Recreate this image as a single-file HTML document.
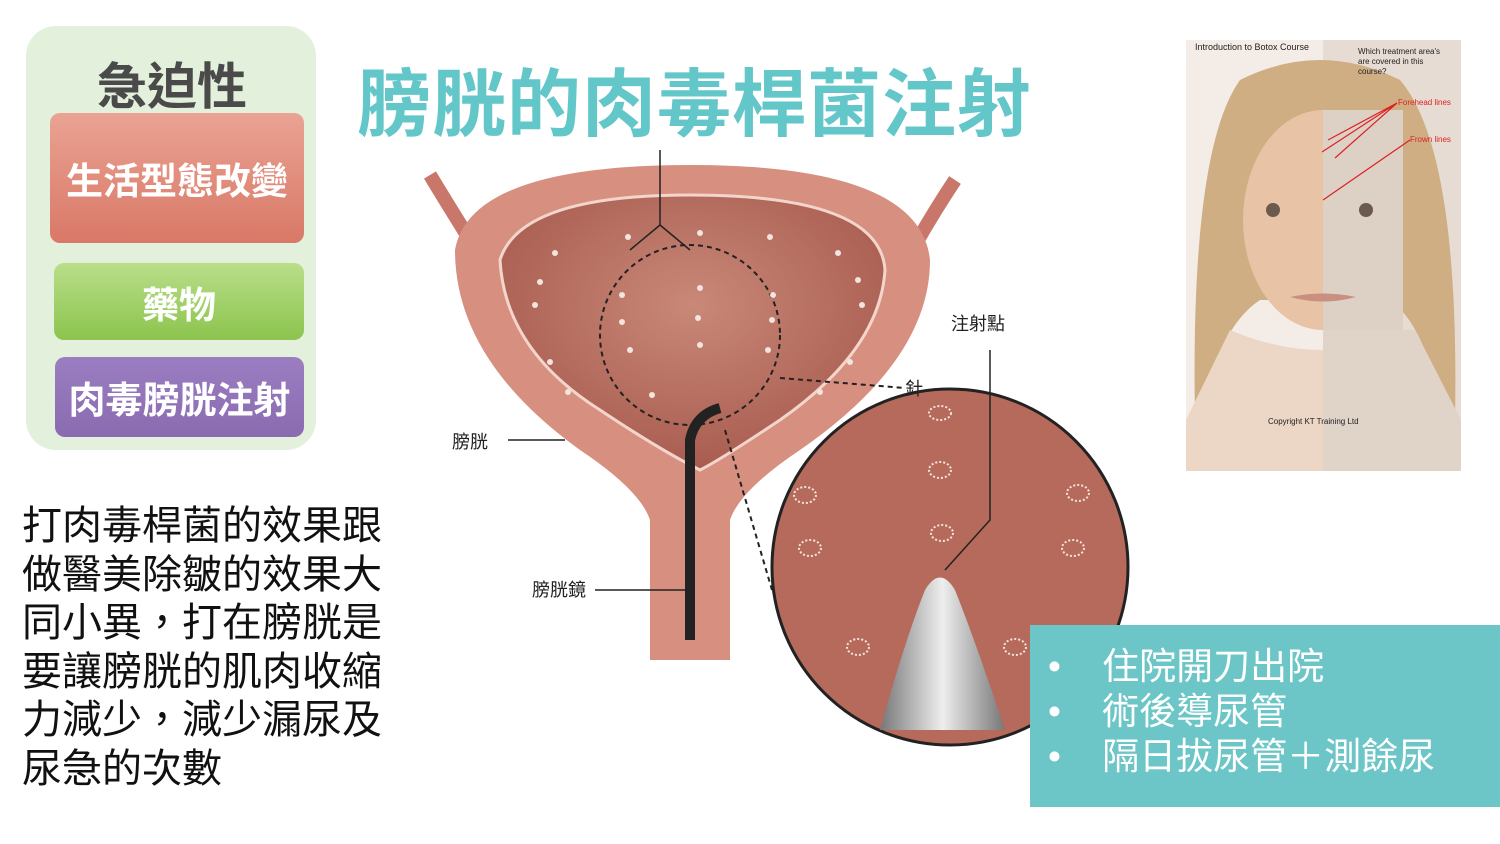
<!DOCTYPE html>
<html><head><meta charset="utf-8"><style>
body{margin:0;width:1500px;height:844px;background:#fff;overflow:hidden;position:relative;font-family:"Liberation Sans","Noto Sans CJK TC",sans-serif}
.a{position:absolute}
.box{position:absolute;border-radius:10px;color:#fff;font-weight:bold;display:flex;align-items:center;justify-content:center;font-size:37px}
.body{left:22px;top:502px;font-size:40px;line-height:48.5px;color:#111}
</style></head><body>
<div class="a" style="left:26px;top:26px;width:290px;height:424px;background:#e3f0db;border-radius:30px"></div>
<div class="a" style="left:26px;top:52px;width:292px;text-align:center;font-size:50px;font-weight:bold;color:#4a4a4a;line-height:70px">急迫性</div>
<div class="box" style="left:50px;top:113px;width:254px;height:130px;background:linear-gradient(#eaa393,#d97867)">生活型態改變</div>
<div class="box" style="left:54px;top:263px;width:250px;height:77px;background:linear-gradient(#b9de8a,#8cc44e)">藥物</div>
<div class="box" style="left:55px;top:357px;width:249px;height:80px;background:linear-gradient(#9b7dc2,#8a6bb0)">肉毒膀胱注射</div>
<div class="a" style="left:357px;top:50px;font-size:74px;font-weight:bold;color:#63c7c9;letter-spacing:1px;line-height:110px">膀胱的肉毒桿菌注射</div>
<div class="a body">打肉毒桿菌的效果跟<br>做醫美除皺的效果大<br>同小異，打在膀胱是<br>要讓膀胱的肌肉收縮<br>力減少，減少漏尿及<br>尿急的次數</div>

<svg class="a" style="left:0;top:0" width="1500" height="844">
<defs><radialGradient id="in" cx="50%" cy="40%" r="60%"><stop offset="0" stop-color="#c98878"/><stop offset="1" stop-color="#a85c4f"/></radialGradient>
<linearGradient id="nd" x1="0" x2="1"><stop offset="0" stop-color="#777"/><stop offset=".5" stop-color="#eee"/><stop offset="1" stop-color="#777"/></linearGradient></defs>
<path d="M430 175 Q445 200 470 240" stroke="#c9776a" stroke-width="14" fill="none"/>
<path d="M955 180 Q935 210 915 245" stroke="#c9776a" stroke-width="14" fill="none"/>
<path d="M455 250 Q470 165 690 165 Q920 165 930 260 Q930 360 800 450 Q740 490 730 520 L730 660 L650 660 L650 520 Q640 490 580 450 Q455 360 455 250Z" fill="#d78f80"/>
<path d="M500 260 Q520 195 690 195 Q880 195 885 270 Q880 350 780 420 Q720 460 700 470 Q660 450 600 410 Q505 350 500 260Z" fill="url(#in)" stroke="#f3d5cc" stroke-width="3"/>
<circle cx="690" cy="335" r="90" fill="none" stroke="#222" stroke-width="2" stroke-dasharray="5,4"/>
<path d="M690 640 L690 440 Q695 415 720 408" stroke="#222" stroke-width="10" fill="none"/>
<circle cx="950" cy="567" r="178" fill="#b56a5b" stroke="#222" stroke-width="3"/>
<path d="M880 730 Q905 640 925 590 Q940 565 955 590 Q975 640 1005 730Z" fill="url(#nd)"/>
<path d="M660 150 L660 225 M660 225 L630 250 M660 225 L690 250" stroke="#222" stroke-width="1.5" fill="none"/>
<path d="M780 378 L905 388" stroke="#222" stroke-width="2" stroke-dasharray="5,4"/>
<path d="M725 430 L772 590" stroke="#222" stroke-width="2" stroke-dasharray="5,4"/>
<path d="M990 350 L990 520 L945 570" stroke="#222" stroke-width="1.5" fill="none"/>
<path d="M508 440 L565 440 M595 590 L695 590" stroke="#222" stroke-width="1.5"/>
<g fill="none" stroke="#f2e4de" stroke-width="2" stroke-dasharray="2,2">
<ellipse cx="940" cy="413" rx="11" ry="7"/><ellipse cx="940" cy="470" rx="11" ry="8"/><ellipse cx="942" cy="533" rx="11" ry="8"/>
<ellipse cx="805" cy="495" rx="11" ry="8"/><ellipse cx="810" cy="548" rx="11" ry="8"/><ellipse cx="1078" cy="493" rx="11" ry="8"/><ellipse cx="1073" cy="548" rx="11" ry="8"/>
<ellipse cx="858" cy="647" rx="11" ry="8"/><ellipse cx="1015" cy="647" rx="11" ry="8"/>
</g>
<g fill="#f2e4de"><circle cx="628" cy="237" r="3"/><circle cx="700" cy="233" r="3"/><circle cx="770" cy="237" r="3"/><circle cx="555" cy="253" r="3"/><circle cx="838" cy="253" r="3"/>
<circle cx="540" cy="282" r="3"/><circle cx="858" cy="280" r="3"/><circle cx="535" cy="305" r="3"/><circle cx="862" cy="305" r="3"/><circle cx="622" cy="295" r="3"/><circle cx="700" cy="288" r="3"/><circle cx="773" cy="295" r="3"/>
<circle cx="622" cy="322" r="3"/><circle cx="698" cy="318" r="3"/><circle cx="772" cy="320" r="3"/><circle cx="630" cy="350" r="3"/><circle cx="700" cy="345" r="3"/><circle cx="768" cy="350" r="3"/><circle cx="550" cy="362" r="3"/><circle cx="850" cy="362" r="3"/><circle cx="568" cy="392" r="3"/><circle cx="652" cy="395" r="3"/><circle cx="820" cy="392" r="3"/></g>
<text x="951" y="330" font-size="18" fill="#222">注射點</text>
<text x="905" y="395" font-size="18" fill="#222">針</text>
<text x="452" y="448" font-size="18" fill="#222">膀胱</text>
<text x="532" y="596" font-size="18" fill="#222">膀胱鏡</text>
<rect x="1186" y="40" width="275" height="431" fill="#f4ece6"/>
<rect x="1323" y="40" width="138" height="431" fill="#e7dcd3"/>
<path d="M1195 420 Q1190 150 1240 80 Q1320 40 1400 80 Q1460 150 1455 420 L1440 420 Q1430 330 1390 300 L1260 300 Q1215 330 1205 420Z" fill="#cfae84"/>
<ellipse cx="1323" cy="220" rx="80" ry="110" fill="#e9c3a5"/>
<rect x="1323" y="110" width="80" height="230" fill="#ddd0c4"/>
<path d="M1230 330 Q1323 370 1415 330 L1460 420 L1460 471 L1186 471 L1186 420Z" fill="#ecd6c5"/>
<path d="M1323 330 L1415 330 L1461 420 L1461 471 L1323 471Z" fill="#e0d3c8"/>
<text x="1195" y="50" font-size="9" fill="#222">Introduction to Botox Course</text>
<text x="1358" y="54" font-size="8" fill="#222">Which treatment area's</text>
<text x="1358" y="64" font-size="8" fill="#222">are covered in this</text>
<text x="1358" y="74" font-size="8" fill="#222">course?</text>
<text x="1398" y="105" font-size="8" fill="#d22">Forehead lines</text>
<text x="1410" y="142" font-size="8" fill="#d22">Frown lines</text>
<path d="M1397 103 L1328 140 M1397 103 L1322 152 M1397 103 L1335 158 M1410 140 L1323 200" stroke="#d22" stroke-width="1.2"/>
<text x="1268" y="424" font-size="8" fill="#222">Copyright KT Training Ltd</text>
<circle cx="1273" cy="210" r="7" fill="#6b5a4e"/><circle cx="1366" cy="210" r="7" fill="#6b5a4e"/>
<path d="M1290 297 Q1323 290 1356 297 Q1323 306 1290 297Z" fill="#c98f80"/>
</svg>

<div class="a" style="left:1030px;top:625px;width:470px;height:182px;background:#6cc6c7"></div>
<div class="a" style="left:1048px;top:644px;font-size:37px;line-height:45px;color:#fff">
<div>•&nbsp;&nbsp;&nbsp;&nbsp;住院開刀出院</div><div>•&nbsp;&nbsp;&nbsp;&nbsp;術後導尿管</div><div>•&nbsp;&nbsp;&nbsp;&nbsp;隔日拔尿管＋測餘尿</div></div>
</body></html>
